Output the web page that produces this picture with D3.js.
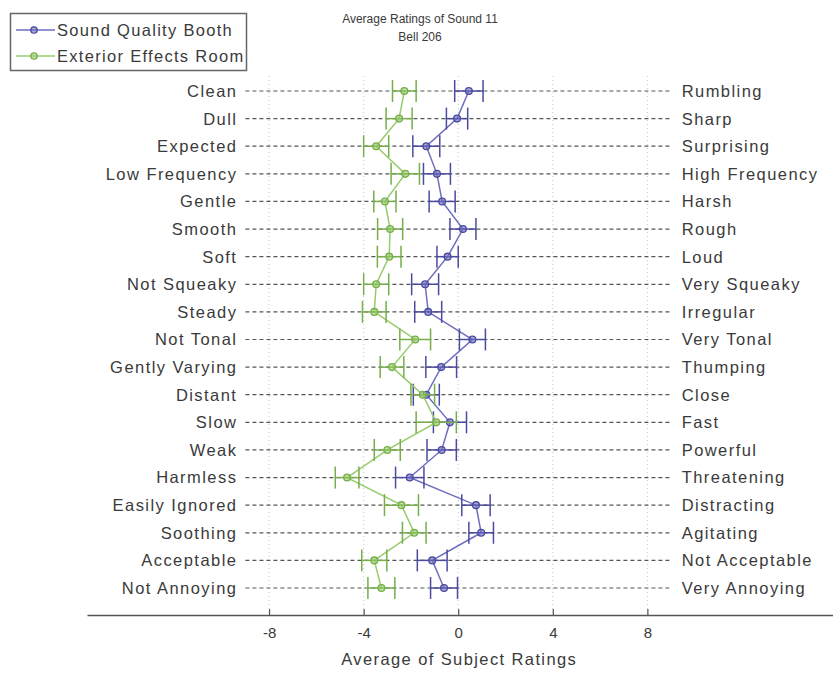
<!DOCTYPE html>
<html>
<head>
<meta charset="utf-8">
<script src="https://cdn.jsdelivr.net/npm/d3@7"></script>
<style>
  html, body { margin: 0; padding: 0; background: #fff; }
  svg { display: block; font-family: "Liberation Sans", Arial, sans-serif; }
</style>
</head>
<body>
<svg id="chart" width="833" height="673"></svg>
<script>
// Bipolar adjective pairs (low end on the left, high end on the right)
const leftLabels = ["Clean", "Dull", "Expected", "Low Frequency", "Gentle", "Smooth", "Soft",
  "Not Squeaky", "Steady", "Not Tonal", "Gently Varying", "Distant", "Slow", "Weak",
  "Harmless", "Easily Ignored", "Soothing", "Acceptable", "Not Annoying"];
const rightLabels = ["Rumbling", "Sharp", "Surprising", "High Frequency", "Harsh", "Rough", "Loud",
  "Very Squeaky", "Irregular", "Very Tonal", "Thumping", "Close", "Fast", "Powerful",
  "Threatening", "Distracting", "Agitating", "Not Acceptable", "Very Annoying"];

// Mean rating and half-width of the error bar for each room
const boothMean = [0.45, -0.05, -1.35, -0.9, -0.68, 0.2, -0.45, -1.4, -1.27, 0.6, -0.72,
  -1.35, -0.35, -0.7, -2.05, 0.75, 0.97, -1.1, -0.6];
const boothErr = [0.6, 0.45, 0.57, 0.57, 0.55, 0.55, 0.45, 0.57, 0.57, 0.55, 0.65,
  0.55, 0.7, 0.62, 0.6, 0.6, 0.52, 0.63, 0.57];
const exteriorMean = [-2.28, -2.5, -3.47, -2.24, -3.1, -2.88, -2.92, -3.47, -3.55, -1.82, -2.8,
  -1.5, -0.93, -3.0, -4.7, -2.4, -1.86, -3.55, -3.25];
const exteriorErr = [0.5, 0.55, 0.53, 0.6, 0.47, 0.53, 0.5, 0.53, 0.5, 0.65, 0.5,
  0.5, 0.85, 0.55, 0.5, 0.72, 0.5, 0.53, 0.57];

const xTicks = [-8, -4, 0, 4, 8];
const seriesNames = ["Sound Quality Booth", "Exterior Effects Room"];

const series = [
  { name: seriesNames[0], mean: boothMean, err: boothErr, line: "#6e6ec0", bar: "#4a4aa0" },
  { name: seriesNames[1], mean: exteriorMean, err: exteriorErr, line: "#98cc6c", bar: "#76ae4a" }
];

const svg = d3.select("#chart");

const x = d3.scaleLinear().domain([-15.7, 15.85]).range([87, 833]);
const y = d3.scalePoint().domain(leftLabels).range([91, 588]);
const axisY = 615;
const textColor = "#3a3a3a";
const labelSize = 16.5;
const labelSpacing = 1.45;

// faint vertical grid at each tick
svg.append("g").selectAll("line").data(xTicks).join("line")
  .attr("x1", d => x(d)).attr("x2", d => x(d))
  .attr("y1", 76).attr("y2", axisY)
  .attr("stroke", "#c8c8c8").attr("stroke-width", 1)
  .attr("stroke-dasharray", "1,3");

// dashed guide for every adjective pair
svg.append("g").selectAll("line").data(leftLabels).join("line")
  .attr("x1", x(-9)).attr("x2", x(9))
  .attr("y1", d => y(d)).attr("y2", d => y(d))
  .attr("stroke", "#555").attr("stroke-width", 1.2)
  .attr("stroke-dasharray", "4,3");

// adjective labels
svg.append("g").selectAll("text").data(leftLabels).join("text")
  .attr("x", x(-9.4) + labelSpacing).attr("y", d => y(d)).attr("dy", "0.36em")
  .attr("text-anchor", "end").attr("font-size", labelSize).attr("fill", textColor)
  .attr("letter-spacing", labelSpacing)
  .text(d => d);
svg.append("g").selectAll("text").data(rightLabels).join("text")
  .attr("x", x(9.45)).attr("y", (d, i) => y(leftLabels[i])).attr("dy", "0.36em")
  .attr("text-anchor", "start").attr("font-size", labelSize).attr("fill", textColor)
  .attr("letter-spacing", labelSpacing)
  .text(d => d);

// series: connecting line, error bars, markers
const cap = 11;
series.forEach(s => {
  const g = svg.append("g");
  const pts = leftLabels.map((lab, i) => ({ lab, m: s.mean[i], e: s.err[i] }));
  g.append("path").datum(pts)
    .attr("fill", "none").attr("stroke", s.line).attr("stroke-width", 1.5)
    .attr("d", d3.line().x(d => x(d.m)).y(d => y(d.lab)));
  const eb = g.append("g").selectAll("g").data(pts).join("g");
  eb.append("line")
    .attr("x1", d => x(d.m - d.e)).attr("x2", d => x(d.m + d.e))
    .attr("y1", d => y(d.lab)).attr("y2", d => y(d.lab))
    .attr("stroke", s.bar).attr("stroke-width", 1.5);
  [-1, 1].forEach(sign => {
    eb.append("line")
      .attr("x1", d => x(d.m + sign * d.e)).attr("x2", d => x(d.m + sign * d.e))
      .attr("y1", d => y(d.lab) - cap).attr("y2", d => y(d.lab) + cap)
      .attr("stroke", s.bar).attr("stroke-width", 1.5);
  });
  g.append("g").selectAll("circle").data(pts).join("circle")
    .attr("cx", d => x(d.m)).attr("cy", d => y(d.lab)).attr("r", 3.4)
    .attr("fill", s.line).attr("fill-opacity", 0.6)
    .attr("stroke", s.bar).attr("stroke-width", 1.3);
});

// x axis with inward ticks
const axis = svg.append("g").attr("transform", `translate(0,${axisY})`)
  .call(d3.axisBottom(x).tickValues(xTicks).tickSizeInner(-6).tickSizeOuter(0)
    .tickPadding(12).tickFormat(d => String(d)));
axis.select(".domain").attr("stroke", "#555").attr("stroke-width", 1.5);
axis.selectAll(".tick line").attr("stroke", "#555").attr("stroke-width", 1.2);
axis.selectAll(".tick text").attr("font-size", 15).attr("fill", textColor)
  .attr("font-family", "Liberation Sans, Arial, sans-serif");

svg.append("text").attr("x", x(0) + 1).attr("y", 665)
  .attr("text-anchor", "middle").attr("font-size", labelSize).attr("fill", textColor)
  .attr("letter-spacing", 1.4)
  .text("Average of Subject Ratings");

// title
svg.append("text").attr("x", 420).attr("y", 23)
  .attr("text-anchor", "middle").attr("font-size", 12).attr("fill", textColor)
  .text("Average Ratings of Sound 11");
svg.append("text").attr("x", 420).attr("y", 41)
  .attr("text-anchor", "middle").attr("font-size", 12).attr("fill", textColor)
  .text("Bell 206");

// legend
const legend = svg.append("g").attr("transform", "translate(10,13)");
legend.append("rect").attr("x", 0.5).attr("y", 0.5).attr("width", 236).attr("height", 57)
  .attr("fill", "#fff").attr("stroke", "#666").attr("stroke-width", 1.5);
series.forEach((s, i) => {
  const row = legend.append("g").attr("transform", `translate(0,${17 + i * 26})`);
  row.append("line").attr("x1", 6).attr("x2", 45).attr("y1", 0).attr("y2", 0)
    .attr("stroke", s.line).attr("stroke-width", 1.5);
  row.append("circle").attr("cx", 24).attr("cy", 0).attr("r", 3.2)
    .attr("fill", s.line).attr("fill-opacity", 0.6)
    .attr("stroke", s.bar).attr("stroke-width", 1.3);
  row.append("text").attr("x", 47).attr("y", 0).attr("dy", "0.36em")
    .attr("font-size", labelSize).attr("fill", textColor)
    .attr("letter-spacing", 1.3).text(s.name);
});
</script>
</body>
</html>
